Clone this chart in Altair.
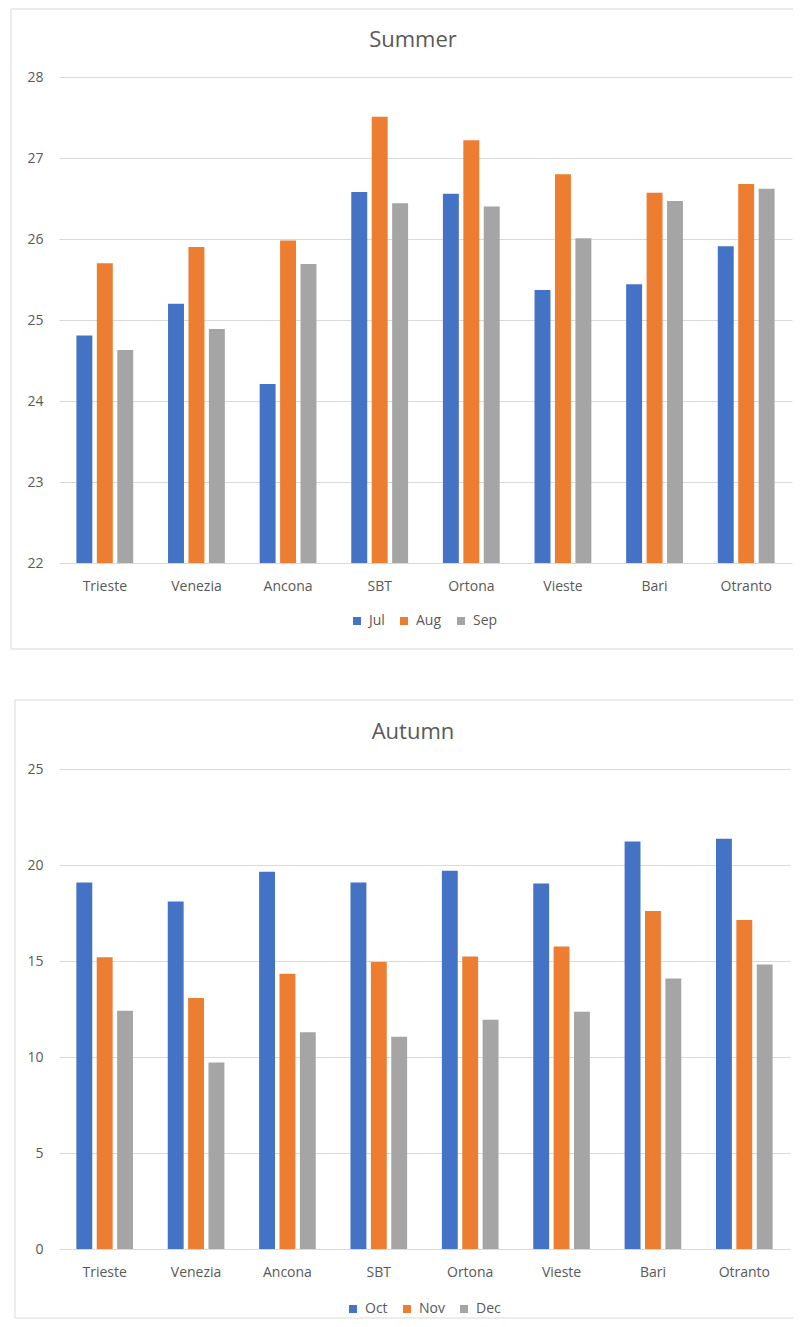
import altair as alt
import pandas as pd

stations = ["Trieste", "Venezia", "Ancona", "SBT", "Ortona", "Vieste", "Bari", "Otranto"]
titles = ["Summer", "Autumn"]
summer_months = ["Jul", "Aug", "Sep"]
autumn_months = ["Oct", "Nov", "Dec"]
jul = [24.81, 25.20, 24.21, 26.58, 26.56, 25.37, 25.44, 25.91]
aug = [25.70, 25.90, 25.98, 27.51, 27.22, 26.80, 26.57, 26.68]
sep = [24.63, 24.89, 25.69, 26.44, 26.40, 26.01, 26.47, 26.62]
oct_ = [19.09, 18.10, 19.65, 19.09, 19.70, 19.04, 21.23, 21.37]
nov = [15.19, 13.07, 14.34, 14.95, 15.24, 15.76, 17.60, 17.14]
dec = [12.41, 9.72, 11.29, 11.06, 11.94, 12.36, 14.09, 14.82]
summer_ticks = [22, 23, 24, 25, 26, 27, 28]
autumn_ticks = [0, 5, 10, 15, 20, 25]
colors = ["#4472C4", "#ED7D31", "#A5A5A5"]

FONT = "Open Sans"
TXT = "#595959"
GRID = "#D9D9D9"


def panel(title, months, series, ticks, width, height, legend_xy, frame_box, title_xy):
    rows = []
    for m, vals in zip(months, series):
        for s, v in zip(stations, vals):
            rows.append({"station": s, "month": m, "value": v})
    df = pd.DataFrame(rows)
    ymin, ymax = ticks[0], ticks[-1]

    bars = alt.Chart(df).mark_bar().encode(
        x=alt.X("station:N", sort=stations, title=None,
                scale=alt.Scale(paddingInner=0.38, paddingOuter=0.19),
                axis=alt.Axis(labelAngle=0, ticks=False, tickSize=0, domain=False, grid=False,
                              labelPadding=16, labelFontSize=14, labelColor=TXT, labelFont=FONT)),
        xOffset=alt.XOffset("month:N", sort=months,
                            scale=alt.Scale(paddingInner=0.22, paddingOuter=0)),
        y=alt.Y("value:Q", title=None,
                scale=alt.Scale(domain=[ymin, ymax], zero=False, nice=False),
                axis=alt.Axis(values=ticks, ticks=False, tickSize=0, domain=False, grid=True,
                              gridColor=GRID, gridWidth=1, labelPadding=16, labelFontSize=14,
                              labelColor=TXT, labelFont=FONT)),
        y2=alt.datum(ymin),
        color=alt.Color("month:N", sort=months,
                        scale=alt.Scale(domain=months, range=colors),
                        legend=alt.Legend(orient="none", legendX=legend_xy[0], legendY=legend_xy[1],
                                          direction="horizontal", title=None, symbolType="square",
                                          symbolSize=64, symbolStrokeWidth=0, labelFontSize=14,
                                          labelColor=TXT, labelFont=FONT, columnPadding=12,
                                          labelOffset=5, padding=0)),
    )

    # panel frame: top, left and bottom edges (the right edge lies outside the picture)
    x0, x1, y0, y1 = frame_box
    one = pd.DataFrame({"a": [0]})
    rule = dict(stroke=GRID, strokeWidth=1)
    top = alt.Chart(one).mark_rule(**rule).encode(
        x=alt.value(x0), x2=alt.value(x1), y=alt.value(y0))
    bottom = alt.Chart(one).mark_rule(**rule).encode(
        x=alt.value(x0), x2=alt.value(x1), y=alt.value(y1))
    left = alt.Chart(one).mark_rule(**rule).encode(
        x=alt.value(x0), y=alt.value(y0), y2=alt.value(y1))

    ttl = alt.Chart(pd.DataFrame({"t": [title]})).mark_text(
        font=FONT, fontSize=22, color=TXT, align="center", baseline="alphabetic"
    ).encode(text="t:N", x=alt.value(title_xy[0]), y=alt.value(title_xy[1]))

    return alt.layer(top, bottom, left, bars, ttl).properties(width=width, height=height)


summer = panel(titles[0], summer_months, [jul, aug, sep], summer_ticks, 733, 486,
               (291, 537), (-48, 734, -68, 572), (354, -30))
autumn = panel(titles[1], autumn_months, [oct_, nov, dec], autumn_ticks, 731, 480,
               (287, 533), (-44, 734, -69, 549), (354, -30))

chart = alt.concat(summer, autumn, columns=1, spacing=49, align="none").resolve_scale(
    color="independent", x="independent", y="independent", xOffset="independent"
).properties(
    padding={"left": 2, "top": 0, "right": 0, "bottom": 0}
).configure(font=FONT).configure_view(strokeWidth=0, stroke="transparent")

chart.save("out.html", embed_options={"renderer": "svg", "actions": False})
